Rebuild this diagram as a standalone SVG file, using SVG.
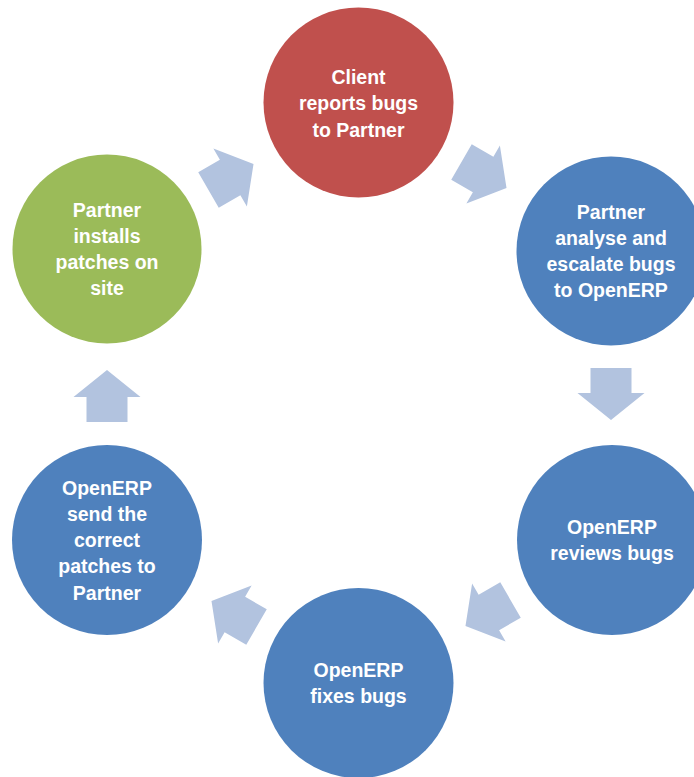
<svg xmlns="http://www.w3.org/2000/svg" width="694" height="777" viewBox="0 0 694 777">
<defs>
<style>
.lbl{font-family:"Liberation Sans",Arial,sans-serif;font-weight:bold;font-size:19.5px;fill:#ffffff;text-anchor:middle}
.arr{fill:#B2C3DF}
</style>
<path id="arrow" d="M-26,-20.5 H-1 V-33.5 L26,0 L-1,33.5 V20.5 H-26 Z"/>
</defs>
<rect width="694" height="777" fill="#ffffff"/>
<g id="connectors" class="arr">
<use href="#arrow" transform="translate(231,177) rotate(-30)"/>
<use href="#arrow" transform="translate(484,175) rotate(30)"/>
<use href="#arrow" transform="translate(611,394) rotate(90)"/>
<use href="#arrow" transform="translate(488,613) rotate(150)"/>
<use href="#arrow" transform="translate(234,614) rotate(210)"/>
<use href="#arrow" transform="translate(107,396) rotate(-90)"/>
</g>
<g id="n1">
<circle cx="358.5" cy="102.5" r="95" fill="#C0504D"/>
<text class="lbl"><tspan x="358.5" y="83.5">Client</tspan><tspan x="358.5" y="110">reports bugs</tspan><tspan x="358.5" y="136.5">to Partner</tspan></text>
</g>
<g id="n2">
<circle cx="611" cy="251" r="94.5" fill="#4F81BD"/>
<text class="lbl"><tspan x="611" y="218.5">Partner</tspan><tspan x="611" y="244.8">analyse and</tspan><tspan x="611" y="271.1">escalate bugs</tspan><tspan x="611" y="297.4">to OpenERP</tspan></text>
</g>
<g id="n3">
<circle cx="612" cy="540" r="95" fill="#4F81BD"/>
<text class="lbl"><tspan x="612" y="534">OpenERP</tspan><tspan x="612" y="560.3">reviews bugs</tspan></text>
</g>
<g id="n4">
<circle cx="358.5" cy="683" r="95" fill="#4F81BD"/>
<text class="lbl"><tspan x="358.5" y="677">OpenERP</tspan><tspan x="358.5" y="703.3">fixes bugs</tspan></text>
</g>
<g id="n5">
<circle cx="107" cy="540" r="95" fill="#4F81BD"/>
<text class="lbl"><tspan x="107" y="494.5">OpenERP</tspan><tspan x="107" y="520.8">send the</tspan><tspan x="107" y="547.1">correct</tspan><tspan x="107" y="573.4">patches to</tspan><tspan x="107" y="599.7">Partner</tspan></text>
</g>
<g id="n6">
<circle cx="107" cy="249" r="94.5" fill="#9BBB59"/>
<text class="lbl"><tspan x="107" y="216.5">Partner</tspan><tspan x="107" y="242.8">installs</tspan><tspan x="107" y="269.1">patches on</tspan><tspan x="107" y="295.4">site</tspan></text>
</g>
</svg>
